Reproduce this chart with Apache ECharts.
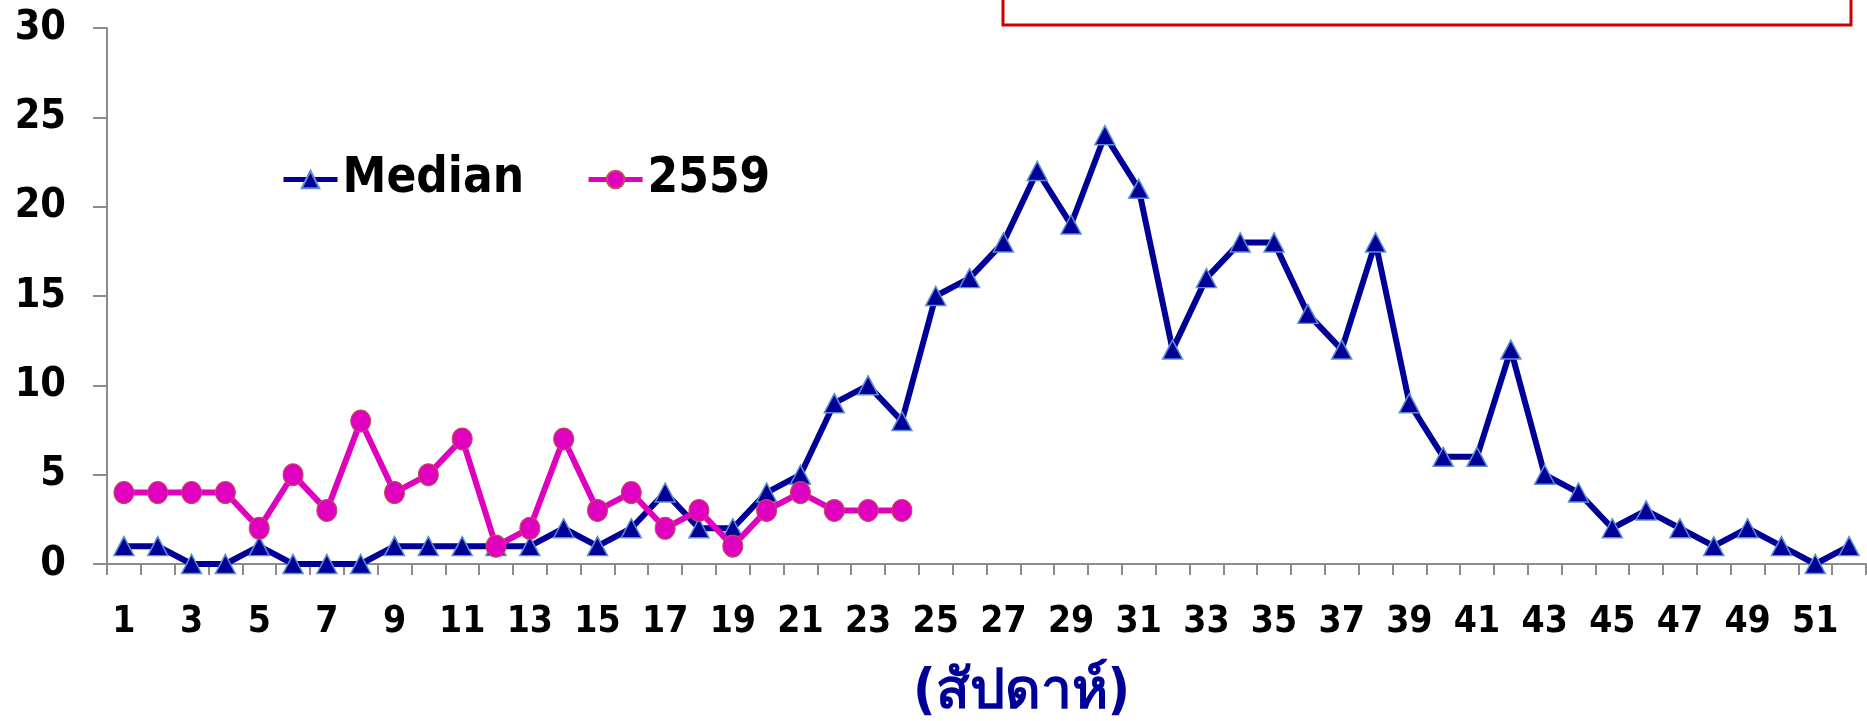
<!DOCTYPE html>
<html>
<head>
<meta charset="utf-8">
<script src="https://cdn.jsdelivr.net/npm/echarts@6/dist/echarts.min.js"></script>
<style>
  html, body { margin: 0; padding: 0; background: #fff; }
  #main { width: 1867px; height: 721px; }
</style>
</head>
<body>
<div id="main"></div>
<script>
// weeks 1..52
var weeks = [];
for (var i = 1; i <= 52; i++) weeks.push(String(i));

// median of previous years
var median = [1, 1, 0, 0, 1, 0, 0, 0, 1, 1, 1, 1, 1, 2, 1, 2, 4, 2, 2, 4,
  5, 9, 10, 8, 15, 16, 18, 22, 19, 24, 21, 12, 16, 18, 18, 14, 12, 18, 9, 6,
  6, 12, 5, 4, 2, 3, 2, 1, 2, 1, 0, 1];

// year 2559 (weeks 1-24 so far)
var y2559 = [4, 4, 4, 4, 2, 5, 3, 8, 4, 5, 7, 1, 2, 7, 3, 4, 2, 3, 1, 3, 4, 3, 3, 3];

var yTicks = [0, 5, 10, 15, 20, 25, 30];

var FONT = "'DejaVu Sans Condensed', 'DejaVu Sans', sans-serif";

var chart = echarts.init(document.getElementById('main'), null, { renderer: 'canvas' });

var option = {
  animation: false,
  backgroundColor: '#fff',
  grid: { left: 107, right: 1, top: 28, bottom: 157, containLabel: false, outerBoundsMode: 'none' },
  legend: {
    left: 276,
    top: 150,
    itemWidth: 54,
    itemHeight: 22,
    itemGap: 62,
    lineStyle: { width: 5 },
    textStyle: { fontFamily: FONT, fontWeight: 'bold', fontSize: 49, color: '#000' },
    data: ['Median', '2559']
  },
  xAxis: {
    type: 'category',
    data: weeks,
    boundaryGap: true,
    axisLine: { lineStyle: { color: '#8c8c8c', width: 2 } },
    axisTick: { show: true, interval: 0, length: 11, lineStyle: { color: '#8c8c8c', width: 2 } },
    axisLabel: { interval: 1, margin: 40, fontFamily: FONT, fontWeight: 'bold', fontSize: 37, color: '#000' },
    name: '(สัปดาห์)',
    nameLocation: 'middle',
    nameGap: 102,
    nameTextStyle: { fontFamily: FONT, fontWeight: 'bold', fontSize: 55, color: '#000099', padding: [0, 0, 0, 70] }
  },
  yAxis: {
    type: 'value',
    min: yTicks[0],
    max: yTicks[yTicks.length - 1],
    interval: 5,
    splitLine: { show: false },
    axisLine: { show: true, lineStyle: { color: '#8c8c8c', width: 2 } },
    axisTick: { show: true, length: 14, lineStyle: { color: '#8c8c8c', width: 2 } },
    axisLabel: { margin: 41, fontFamily: FONT, fontWeight: 'bold', fontSize: 41, color: '#000' }
  },
  series: [
    {
      name: 'Median',
      type: 'line',
      data: median,
      symbol: 'triangle',
      symbolSize: [20, 19],
      lineStyle: { color: '#000099', width: 6 },
      itemStyle: { color: '#000099', borderColor: '#5b8fd0', borderWidth: 1.5 },
      z: 3
    },
    {
      name: '2559',
      type: 'line',
      data: y2559,
      symbol: 'circle',
      symbolSize: [20, 22],
      lineStyle: { color: '#e000c0', width: 6 },
      itemStyle: { color: '#e000c0', borderColor: '#c0504d', borderWidth: 1 },
      z: 4
    }
  ],
  graphic: [
    {
      type: 'rect',
      shape: { x: 1003, y: -20, width: 848, height: 45 },
      style: { fill: 'none', stroke: '#cc0000', lineWidth: 3 }
    }
  ]
};

chart.setOption(option);
</script>
</body>
</html>
